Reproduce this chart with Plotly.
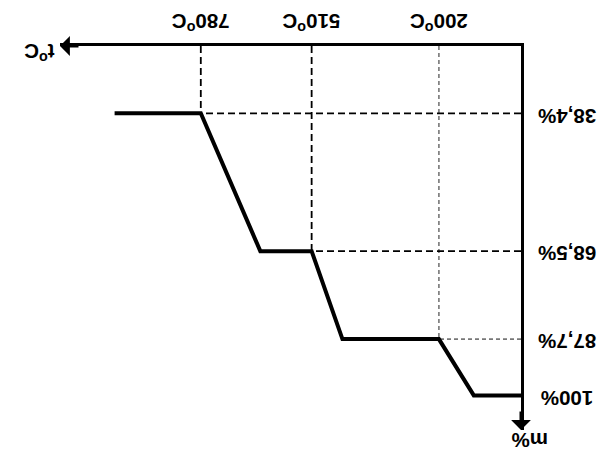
import plotly.graph_objects as go

# ---- data ----
curve_temp = [0, 115, 200, 435, 510, 635, 780, 990]          # °C
curve_mass = [100, 100, 87.7, 87.7, 68.5, 68.5, 38.4, 38.4]  # m %
knee_temp = [200, 510, 780]
knee_mass = [87.7, 68.5, 38.4]
temp_labels = ["200<sup>o</sup>C", "510<sup>o</sup>C", "780<sup>o</sup>C"]
mass_ticks = [100, 87.7, 68.5, 38.4]
mass_labels = ["100%", "87,7%", "68,5%", "38,4%"]

W, H = 611, 465
# page body has an 8px default margin, so the figure is shifted by 8px
ML, MR, MT, MB = 52, 98, 38, 43
X_RANGE = [1123, 0]          # reversed: high temperatures on the left
Y_RANGE = [107.55, 23.71]    # reversed: larger mass at the bottom
FONT = "Liberation Sans"
FS = 20.5

fig = go.Figure()

# dashed guide lines
guide_styles = [dict(color="#777777", width=1.6, dash="4px,3px"),
                dict(color="black", width=1.8, dash="7px,4px"),
                dict(color="black", width=1.8, dash="7px,4px")]
for t, m, st in zip(knee_temp, knee_mass, guide_styles):
    fig.add_trace(go.Scatter(x=[t, t], y=[Y_RANGE[1], m], mode="lines",
                             line=st, hoverinfo="skip", showlegend=False))
    fig.add_trace(go.Scatter(x=[X_RANGE[1], t], y=[m, m], mode="lines",
                             line=st, hoverinfo="skip", showlegend=False))

# main curve
fig.add_trace(go.Scatter(x=curve_temp, y=curve_mass, mode="lines",
                         line=dict(color="black", width=4),
                         cliponaxis=False, showlegend=False))

annotations = []
# temperature labels (upside down)
for t, lab in zip(knee_temp, temp_labels):
    annotations.append(dict(x=t, y=1.06, xref="x", yref="paper", text="<b>" + lab + "</b>",
                            showarrow=False, textangle=180,
                            font=dict(family=FONT, size=FS, color="black"),
                            xanchor="center", yanchor="middle"))
# mass labels (upside down)
for m, lab in zip(mass_ticks, mass_labels):
    annotations.append(dict(x=1.10, y=m, xref="paper", yref="y", text="<b>" + lab + "</b>",
                            showarrow=False, textangle=180, yshift=-3,
                            font=dict(family=FONT, size=FS, color="black"),
                            xanchor="center", yanchor="middle"))
# axis titles
annotations.append(dict(x=-0.046, y=0.982, xref="paper", yref="paper",
                        text="<b>t<sup>o</sup>C</b>", showarrow=False, textangle=180,
                        xanchor="center", yanchor="middle",
                        font=dict(family=FONT, size=FS, color="black")))
annotations.append(dict(x=1.0195, y=-0.029, xref="paper", yref="paper",
                        text="<b>m%</b>", showarrow=False, textangle=180,
                        xanchor="center", yanchor="middle",
                        font=dict(family=FONT, size=FS, color="black")))
# arrow heads
annotations.append(dict(x=0, y=1, xref="paper", yref="paper", text="", showarrow=True,
                        ax=20, ay=0, arrowhead=1, arrowsize=1.1, arrowwidth=3,
                        arrowcolor="black"))
annotations.append(dict(x=1, y=0, xref="paper", yref="paper", text="", showarrow=True,
                        ax=0, ay=-20, arrowhead=1, arrowsize=1.1, arrowwidth=3,
                        arrowcolor="black"))

fig.update_layout(
    width=W, height=H, autosize=False,
    margin=dict(l=ML, r=MR, t=MT, b=MB),
    paper_bgcolor="white", plot_bgcolor="white",
    xaxis=dict(range=X_RANGE, side="top", showline=True, linecolor="black", linewidth=3,
               showgrid=False, zeroline=False, showticklabels=False, ticks=""),
    yaxis=dict(range=Y_RANGE, side="right", showline=True, linecolor="black", linewidth=3,
               showgrid=False, zeroline=False, showticklabels=False, ticks=""),
    annotations=annotations,
    showlegend=False,
)

fig.write_html("out.html")
